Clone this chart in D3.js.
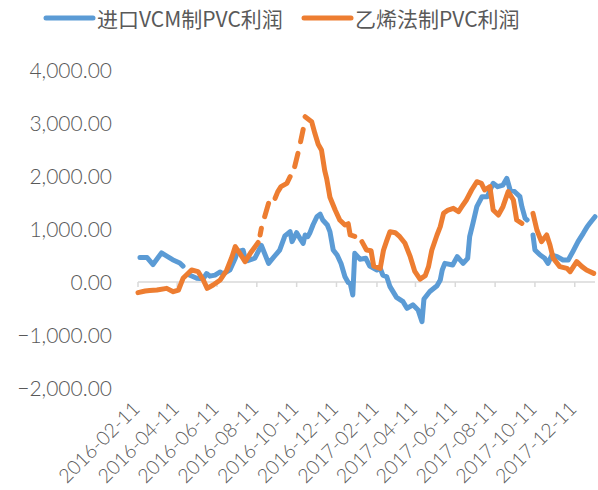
<!DOCTYPE html>
<html><head><meta charset="utf-8">
<script src="https://cdn.jsdelivr.net/npm/d3@7"></script>
<style>body{margin:0;background:#fff}svg{display:block}</style>
</head><body>
<svg id="c" width="598" height="490"></svg>
<script>
const seriesNames = ["进口VCM制PVC利润", "乙烯法制PVC利润"];
const seriesColors = ["#5B9BD5", "#ED7D31"];
const tickLabels = ["2016-02-11","2016-04-11","2016-06-11","2016-08-11","2016-10-11","2016-12-11",
  "2017-02-11","2017-04-11","2017-06-11","2017-08-11","2017-10-11","2017-12-11"];
const yTicks = [-2000, -1000, 0, 1000, 2000, 3000, 4000];

const blueDates = ["2016-02-14","2016-02-25","2016-03-05","2016-03-18","2016-04-04","2016-04-15","2016-04-20","2016-04-24",
  "2016-04-28","2016-05-11","2016-05-21","2016-05-26","2016-05-31","2016-06-08","2016-06-16","2016-06-20","2016-07-01",
  "2016-07-09","2016-07-12","2016-07-21","2016-07-24","2016-07-28","2016-08-08","2016-08-18","2016-08-29","2016-09-08",
  "2016-09-15","2016-09-23","2016-10-01","2016-10-04","2016-10-11","2016-10-16","2016-10-21","2016-10-24","2016-10-28",
  "2016-10-31","2016-11-05","2016-11-11","2016-11-16","2016-11-20","2016-11-27","2016-12-01","2016-12-06","2016-12-12",
  "2016-12-18","2016-12-24","2016-12-29","2017-01-01","2017-01-05","2017-01-08","2017-01-16","2017-01-25","2017-01-31",
  "2017-02-11","2017-02-16","2017-02-20","2017-02-26","2017-03-03","2017-03-13","2017-03-23","2017-03-29","2017-04-07",
  "2017-04-15","2017-04-21","2017-04-24","2017-05-03","2017-05-14","2017-05-19","2017-05-22","2017-05-26","2017-06-07",
  "2017-06-14","2017-06-23","2017-06-30","2017-07-03","2017-07-08","2017-07-14","2017-07-22","2017-07-30","2017-08-08",
  "2017-08-15","2017-08-23","2017-08-29","2017-09-03","2017-09-10","2017-09-18","2017-09-21","2017-09-26","2017-09-29",
  "2017-10-03","2017-10-08","2017-10-11","2017-10-19","2017-10-26","2017-10-31","2017-11-06","2017-11-14","2017-11-23",
  "2017-12-01","2017-12-08","2017-12-16","2017-12-24","2017-12-30","2018-01-03","2018-01-11"];
const blueValues = [460,460,330,550,420,360,300,null,
  140,70,60,160,110,130,190,150,230,
  450,570,600,447,402,450,690,352,500,
  600,870,950,761,930,824,730,887,855,
  918,1075,1232,1280,1170,1075,950,604,509,
  350,100,-10,-25,-245,541,430,447,300,
  226,260,130,100,-88,-290,-371,-497,-430,
  -528,-749,-320,-180,-70,38,226,352,320,
  478,352,447,855,1107,1421,1610,1610,1862,
  1798,1830,1956,1736,1704,1610,1421,1201,1170,
  null,887,604,509,447,352,509,478,415,
  415,572,761,918,1044,1107,1232];

const orangeDates = ["2016-02-11","2016-02-22","2016-02-29","2016-03-11","2016-03-26","2016-04-05","2016-04-13","2016-04-20",
  "2016-05-03","2016-05-13","2016-05-21","2016-05-27","2016-06-05","2016-06-16","2016-06-26","2016-07-04","2016-07-09",
  "2016-07-16","2016-07-24","2016-08-01","2016-08-13","2016-08-15","2016-08-16","2016-08-18","2016-08-21","2016-08-23",
  "2016-08-29","2016-09-02","2016-09-08","2016-09-12","2016-09-17","2016-09-26","2016-10-01","2016-10-05","2016-10-08",
  "2016-10-13","2016-10-15","2016-10-17","2016-10-21","2016-10-22","2016-10-24","2016-11-03","2016-11-08","2016-11-13",
  "2016-11-18","2016-11-23","2016-11-26","2016-12-01","2016-12-09","2016-12-16","2016-12-24","2016-12-29","2017-01-01",
  "2017-01-08","2017-01-12","2017-01-19","2017-01-26","2017-02-02","2017-02-06","2017-02-16","2017-02-21","2017-02-26",
  "2017-03-03","2017-03-11","2017-03-18","2017-03-26","2017-04-03","2017-04-10","2017-04-18","2017-04-26","2017-05-01",
  "2017-05-06","2017-05-14","2017-05-19","2017-05-24","2017-05-31","2017-06-08","2017-06-16","2017-06-21","2017-06-28",
  "2017-07-06","2017-07-14","2017-07-21","2017-07-26","2017-08-03","2017-08-08","2017-08-16","2017-08-23","2017-08-31",
  "2017-09-08","2017-09-13","2017-09-21","2017-09-28","2017-10-08","2017-10-14","2017-10-21","2017-10-29","2017-11-03",
  "2017-11-08","2017-11-18","2017-11-29","2017-12-04","2017-12-14","2017-12-22","2017-12-29","2018-01-09"];
const orangeValues = [-200,-170,-160,-151,-120,-183,-151,70,
  226,195,38,-120,-57,38,226,478,667,
  541,384,541,745,null,887,1013,null,1232,
  1485,null,1579,1700,1800,1862,1987,null,2176,
  2428,null,2647,2880,null,3119,3025,2800,2600,
  2491,2100,1950,1600,1358,1170,1075,1100,887,
  860,null,761,604,590,300,258,600,780,
  950,930,855,730,478,200,55,120,290,
  600,887,1044,1296,1358,1390,1327,1421,1547,
  1736,1892,1862,1736,1798,1358,1264,1421,1704,
  1547,1170,1107,null,1296,981,761,887,698,
  447,290,258,195,384,290,226,163];

const parse = d3.timeParse("%Y-%m-%d");
const svg = d3.select("#c");
const textColor = "#595959";
const axisFont = "Lato, 'Liberation Sans', Arial, sans-serif";

const x = d3.scaleTime().domain([parse("2016-02-11"), parse("2018-01-11")]).range([138, 595]);
const y = d3.scaleLinear().domain([-2000, 4000]).range([388, 70]);

// y labels
svg.append("g").selectAll("text").data(yTicks).join("text")
  .attr("x", 112).attr("y", d => y(d)).attr("dy", "0.36em")
  .attr("text-anchor", "end").attr("fill", textColor)
  .style("font-family", axisFont).style("font-size", "21px").style("font-weight", 300)
  .text(d => d3.format(",.2f")(d));

// zero axis line with ticks
const axisG = svg.append("g");
axisG.append("line").attr("x1", x.range()[0]).attr("x2", x.range()[1])
  .attr("y1", y(0)).attr("y2", y(0)).attr("stroke", "#D9D9D9").attr("stroke-width", 1.5);
axisG.selectAll("line.tk").data(tickLabels).join("line").attr("class", "tk")
  .attr("x1", d => x(parse(d))).attr("x2", d => x(parse(d)))
  .attr("y1", y(0)).attr("y2", y(0) + 5).attr("stroke", "#D9D9D9").attr("stroke-width", 1.5);

// x labels at the bottom
svg.append("g").selectAll("text").data(tickLabels).join("text")
  .attr("transform", d => `translate(${x(parse(d)) + 3},${y(-2000) + 22}) rotate(-45)`)
  .attr("text-anchor", "end").attr("fill", textColor)
  .style("font-family", axisFont).style("font-size", "19.5px").style("font-weight", 300)
  .text(d => d);

// lines
const series = [
  {dates: blueDates, values: blueValues},
  {dates: orangeDates, values: orangeValues}
];
const line = d3.line().defined(d => d.v !== null).x(d => x(d.t)).y(d => y(d.v)).curve(d3.curveLinear);
series.forEach((s, i) => {
  const pts = s.dates.map((d, k) => ({t: parse(d), v: s.values[k]}));
  svg.append("path").datum(pts).attr("d", line)
    .attr("fill", "none").attr("stroke", seriesColors[i]).attr("stroke-width", 5)
    .attr("stroke-linecap", "round").attr("stroke-linejoin", "round");
});

// legend
const legX = [46, 304];
seriesNames.forEach((n, i) => {
  const g = svg.append("g");
  g.append("line").attr("x1", legX[i]).attr("x2", legX[i] + 47).attr("y1", 18).attr("y2", 18)
    .attr("stroke", seriesColors[i]).attr("stroke-width", 5).attr("stroke-linecap", "round");
  g.append("text").attr("x", legX[i] + 51).attr("y", 19).attr("dy", "0.36em")
    .attr("fill", textColor).style("font-family", "'Noto Sans CJK SC', sans-serif").style("font-size", "21px")
    .text(n);
});
</script>
</body></html>
